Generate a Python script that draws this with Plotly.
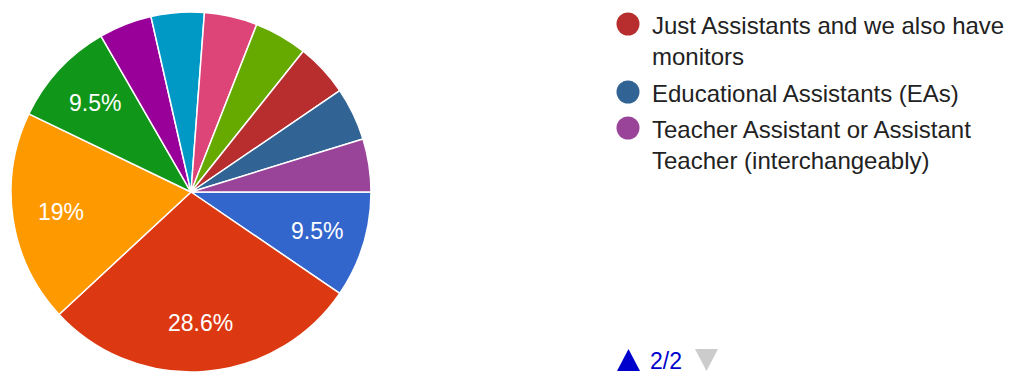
import math
import textwrap
import plotly.graph_objects as go

# Survey responses: what the assistants in the school are called
categories = [
    "Paraprofessionals",
    "Teacher Aides",
    "Instructional Assistants",
    "Teaching Assistants (TAs)",
    "Paraeducators",
    "Classroom Assistants",
    "Aides",
    "Learning Support Assistants",
    "Just Assistants and we also have monitors",
    "Educational Assistants (EAs)",
    "Teacher Assistant or Assistant Teacher (interchangeably)",
]
responses = [2, 6, 4, 2, 1, 1, 1, 1, 1, 1, 1]
colors = [
    "#3366cc", "#dc3912", "#ff9900", "#109618", "#990099", "#0099c6",
    "#dd4477", "#66aa00", "#b82e2e", "#316395", "#994499",
]
# legend page currently shown (items 9-11 of 11)
legend_page = [8, 9, 10]
page_label = "2/2"

W, H = 1012, 374
FONT = "Liberation Sans, Arial, sans-serif"

# pie geometry in pixels
CX, CY, R = 191, 192, 180

total = sum(responses)


def pct_text(v):
    p = round(v / total * 100, 1)
    s = f"{p:.1f}".rstrip("0").rstrip(".")
    return f"{s}%"


def px(x):
    return x / W


def py(y):
    return 1 - y / H


fig = go.Figure(
    go.Pie(
        labels=categories,
        values=responses,
        textinfo="none",
        marker=dict(colors=colors, line=dict(color="white", width=1.5)),
        sort=False,
        direction="clockwise",
        rotation=90,
        showlegend=False,
        hoverinfo="label+percent",
        domain=dict(x=[px(CX - R), px(CX + R)], y=[py(CY + R), py(CY - R)]),
    )
)

annotations = []
shapes = []

# percentage labels inside the larger slices, at the slice's mid-angle
start = 0.0
for v in responses:
    sweep = v / total * 360
    if v / total >= 0.07:
        mid = math.radians(start + sweep / 2)  # clockwise from 3 o'clock
        rl = 0.73 * R
        lx = CX + rl * math.cos(mid)
        ly = CY + rl * math.sin(mid)
        annotations.append(dict(
            text=pct_text(v), xref="paper", yref="paper",
            x=px(lx), y=py(ly), xanchor="center", yanchor="middle",
            showarrow=False, font=dict(size=23, color="white", family=FONT),
        ))
    start += sweep

# legend column
y = 24
line_h = 32
item_gap = 4
for idx in legend_page:
    lines = textwrap.wrap(categories[idx], width=32)
    r = 11.5
    shapes.append(dict(
        type="circle", xref="paper", yref="paper",
        x0=px(628 - r), x1=px(628 + r), y0=py(y + r), y1=py(y - r),
        fillcolor=colors[idx], line=dict(width=0),
    ))
    for i, ln in enumerate(lines):
        annotations.append(dict(
            text=ln, xref="paper", yref="paper",
            x=px(650), y=py(y + i * line_h + 1),
            xanchor="left", yanchor="middle", showarrow=False,
            font=dict(size=24, color="#222222", family=FONT),
        ))
    y += len(lines) * line_h + item_gap

# pager: up arrow (active), page text, down arrow (inactive)
shapes.append(dict(
    type="path", xref="paper", yref="paper",
    path=f"M {px(617)} {py(371)} L {px(640)} {py(371)} L {px(628.5)} {py(349)} Z",
    fillcolor="#0000cc", line=dict(width=0),
))
shapes.append(dict(
    type="path", xref="paper", yref="paper",
    path=f"M {px(695)} {py(349)} L {px(718)} {py(349)} L {px(706.5)} {py(371)} Z",
    fillcolor="#cccccc", line=dict(width=0),
))
annotations.append(dict(
    text=page_label, xref="paper", yref="paper",
    x=px(648), y=py(361), xanchor="left", yanchor="middle", showarrow=False,
    font=dict(size=23, color="#0000cc", family=FONT),
))

fig.update_layout(
    width=W, height=H,
    margin=dict(l=0, r=0, t=0, b=0),
    paper_bgcolor="white", plot_bgcolor="white",
    annotations=annotations, shapes=shapes,
)

fig.write_html("out.html")
